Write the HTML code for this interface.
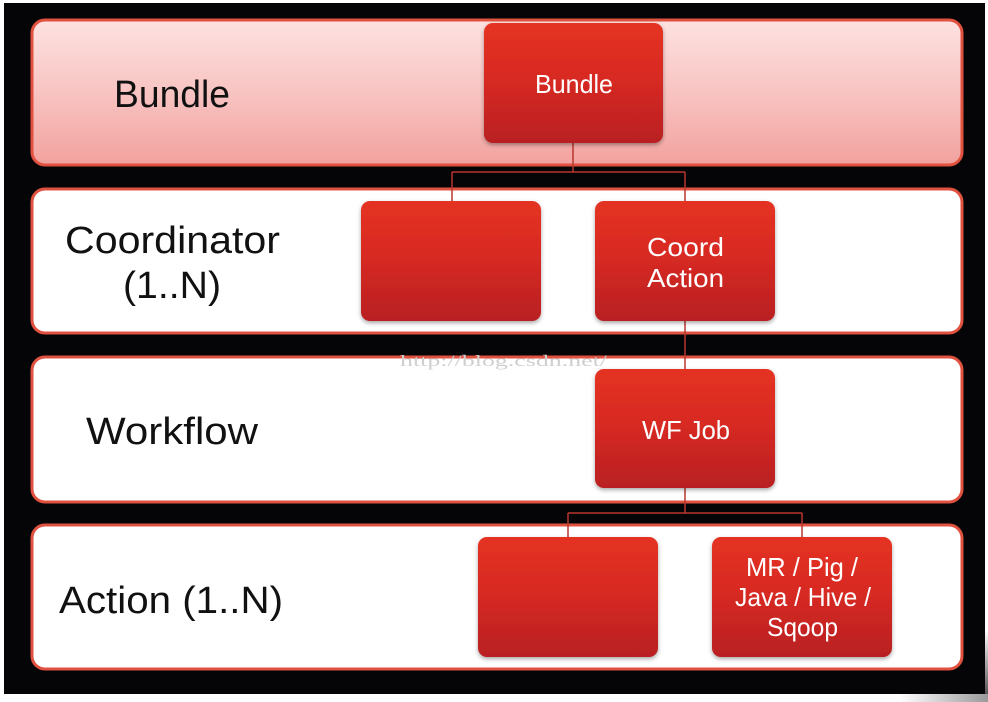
<!DOCTYPE html>
<html><head><meta charset="utf-8"><style>
html,body{margin:0;padding:0;background:#fff;width:988px;height:702px;overflow:hidden}
svg{display:block}
</style></head><body>
<svg width="988" height="702" viewBox="0 0 988 702" xmlns="http://www.w3.org/2000/svg">
<defs>
<linearGradient id="pink" x1="0" y1="0" x2="0" y2="1">
<stop offset="0" stop-color="#fde2e1"/><stop offset="0.5" stop-color="#f8c4c2"/><stop offset="1" stop-color="#f2a29e"/>
</linearGradient>
<linearGradient id="red" x1="0" y1="0" x2="0" y2="1">
<stop offset="0" stop-color="#e53224"/><stop offset="0.45" stop-color="#d82a22"/><stop offset="1" stop-color="#b91f21"/>
</linearGradient>
<linearGradient id="br" x1="0" y1="0" x2="1" y2="0">
<stop offset="0" stop-color="#ffffff"/><stop offset="1" stop-color="#9a9a9a"/>
</linearGradient>
<linearGradient id="rs" x1="0" y1="0" x2="0" y2="1">
<stop offset="0" stop-color="#ffffff"/><stop offset="1" stop-color="#555"/>
</linearGradient>
<filter id="sh" x="-10%" y="-10%" width="120%" height="125%">
<feDropShadow dx="0" dy="2" stdDeviation="2" flood-color="#000" flood-opacity="0.35"/>
</filter>
</defs>
<rect x="0" y="0" width="988" height="702" fill="#fff"/>
<rect x="900" y="693" width="88" height="9" fill="url(#br)"/>
<rect x="984" y="630" width="4" height="64" fill="url(#rs)"/>
<rect x="4" y="3" width="981" height="691" fill="#050507"/>

<!-- rows -->
<rect x="32" y="20" width="930" height="145" rx="13" fill="url(#pink)" stroke="#e0523f" stroke-width="3"/>
<rect x="32" y="189" width="930" height="144" rx="13" fill="#fff" stroke="#e0523f" stroke-width="3"/>
<rect x="32" y="357" width="930" height="145" rx="13" fill="#fff" stroke="#e0523f" stroke-width="3"/>
<rect x="32" y="525" width="930" height="144" rx="13" fill="#fff" stroke="#e0523f" stroke-width="3"/>

<!-- connectors -->
<g stroke="#b8362f" stroke-width="1.5" fill="none">
<path d="M573 143 V172 M452 172 H685 M452 172 V201 M685 172 V201"/>
<path d="M685 321 V369"/>
<path d="M685 488 V513 M568 513 H802 M568 513 V537 M802 513 V537"/>
</g>

<!-- boxes -->
<g filter="url(#sh)" fill="url(#red)">
<rect x="484" y="23" width="179" height="120" rx="9"/>
<rect x="361" y="201" width="180" height="120" rx="9"/>
<rect x="595" y="201" width="180" height="120" rx="9"/>
<rect x="595" y="369" width="180" height="119" rx="9"/>
<rect x="478" y="537" width="180" height="120" rx="9"/>
<rect x="712" y="537" width="180" height="120" rx="9"/>
</g>

<!-- watermark -->
<text x="400" y="366" font-family="Liberation Serif, serif" font-size="16" fill="#cfcfcf" textLength="207" lengthAdjust="spacingAndGlyphs">http://blog.csdn.net/</text>

<!-- left labels -->
<g font-family="Liberation Sans, sans-serif" font-size="38" fill="#111">
<text x="114" y="107" textLength="116" lengthAdjust="spacingAndGlyphs">Bundle</text>
<text x="65" y="253" textLength="215" lengthAdjust="spacingAndGlyphs">Coordinator</text>
<text x="123" y="298" textLength="98" lengthAdjust="spacingAndGlyphs">(1..N)</text>
<text x="86" y="444" textLength="172" lengthAdjust="spacingAndGlyphs">Workflow</text>
<text x="59" y="613" textLength="224" lengthAdjust="spacingAndGlyphs">Action (1..N)</text>
</g>

<!-- box labels -->
<g font-family="Liberation Sans, sans-serif" font-size="26" fill="#fff">
<text x="535" y="93" textLength="78" lengthAdjust="spacingAndGlyphs">Bundle</text>
<text x="647" y="256" textLength="77" lengthAdjust="spacingAndGlyphs">Coord</text>
<text x="647" y="287" textLength="77" lengthAdjust="spacingAndGlyphs">Action</text>
<text x="642" y="439" textLength="88" lengthAdjust="spacingAndGlyphs">WF Job</text>
<text x="746" y="576" textLength="112" lengthAdjust="spacingAndGlyphs">MR / Pig /</text>
<text x="735" y="606" textLength="136" lengthAdjust="spacingAndGlyphs">Java / Hive /</text>
<text x="767" y="636" textLength="71" lengthAdjust="spacingAndGlyphs">Sqoop</text>
</g>
</svg>
</body></html>
